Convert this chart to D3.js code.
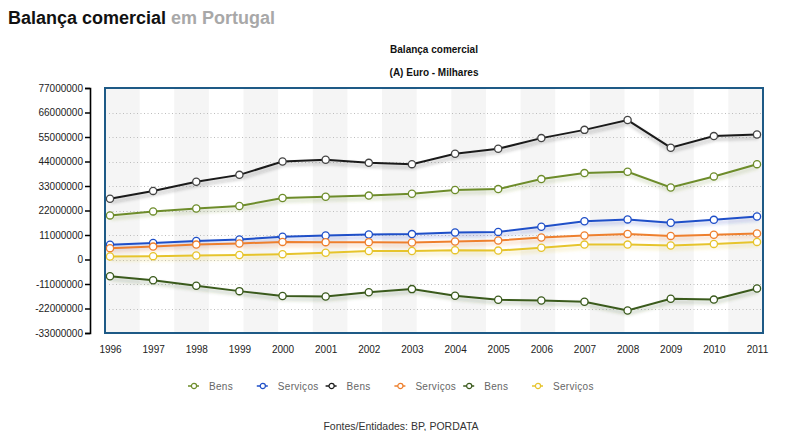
<!DOCTYPE html>
<html><head><meta charset="utf-8">
<script src="https://cdn.jsdelivr.net/npm/d3@7"></script>
<style>body{margin:0;background:#fff;}svg{display:block;font-family:Arial,"Liberation Sans",sans-serif;}</style>
</head><body>
<svg id="c" width="800" height="431"></svg>
<script>
const years = ["1996","1997","1998","1999","2000","2001","2002","2003","2004","2005","2006","2007","2008","2009","2010","2011"];
const yTicks = [77000000,66000000,55000000,44000000,33000000,22000000,11000000,0,-11000000,-22000000,-33000000];
const exportsBens    = [19800000,21600000,22900000,24000000,27600000,28200000,28700000,29500000,31200000,31600000,36100000,38800000,39400000,32300000,37300000,42800000];
const exportsServicos= [6600000,7400000,8300000,9000000,10200000,10800000,11200000,11400000,12100000,12400000,14700000,17200000,18000000,16500000,17800000,19300000];
const importsBens    = [27300000,30800000,34900000,38000000,44000000,44800000,43400000,42800000,47500000,49700000,54500000,58200000,62600000,50200000,55400000,56100000];
const importsServicos= [5100000,5800000,6700000,7200000,7900000,7800000,7800000,7600000,8100000,8500000,9900000,10800000,11500000,10600000,11100000,11700000];
const saldoBens      = [-7500000,-9300000,-11800000,-14200000,-16400000,-16600000,-14700000,-13300000,-16300000,-18100000,-18400000,-19000000,-22900000,-17600000,-18000000,-13000000];
const saldoServicos  = [1350000,1500000,1800000,2000000,2400000,3000000,3800000,3800000,4200000,4000000,5300000,6700000,6700000,6300000,7000000,7900000];
const seriesNames = ["Bens","Serviços","Bens","Serviços","Bens","Serviços"];
const seriesColors = ["#6d8c2a","#1f4fc8","#1a1a1a","#ee7f2d","#3a5a1c","#e6c42c"];
const seriesData = [exportsBens,exportsServicos,importsBens,importsServicos,saldoBens,saldoServicos];

const svg = d3.select("#c");
const L=105, R=763, T=88, B=333;

// page title
const ttl = svg.append("text").attr("x",8).attr("y",24).style("font-size","18px").style("font-weight","bold");
ttl.append("tspan").attr("fill","#111").text("Balança comercial ");
ttl.append("tspan").attr("fill","#a8a8a8").text("em Portugal");

// chart titles
svg.append("text").attr("x",(L+R)/2).attr("y",53).attr("text-anchor","middle").style("font-size","10px").style("font-weight","bold").attr("fill","#111").text("Balança comercial");
svg.append("text").attr("x",(L+R)/2).attr("y",76).attr("text-anchor","middle").style("font-size","10px").style("font-weight","bold").attr("fill","#111").text("(A) Euro - Milhares");

const y = d3.scaleLinear().domain([-33000000,77000000]).range([B,T]);
const x = d3.scalePoint().domain(years).range([110,757]);

// background stripes
const stripes = d3.scaleBand().domain(d3.range(19)).range([L,R]);
svg.append("g").selectAll("rect").data(d3.range(19).filter(i=>i%2===0)).join("rect")
  .attr("x",d=>stripes(d)).attr("y",T).attr("width",stripes.bandwidth()).attr("height",B-T).attr("fill","#f5f5f5");

// grid lines
svg.append("g").selectAll("line").data(yTicks.filter(v=>v!==77000000 && v!==-33000000)).join("line")
  .attr("x1",L+4).attr("x2",R-2).attr("y1",d=>Math.round(y(d))+0.5).attr("y2",d=>Math.round(y(d))+0.5)
  .attr("stroke","#bdbdbd").attr("stroke-width",1).attr("stroke-dasharray","1,2.5");

// y axis
const ya = svg.append("g").attr("transform","translate(90,0)")
  .call(d3.axisLeft(y).tickValues(yTicks).tickFormat(d=>String(d)).tickSize(5).tickPadding(2));
ya.select(".domain").attr("stroke","#000").attr("stroke-width",1.6);
ya.selectAll(".tick line").attr("stroke","#000").attr("stroke-width",1.5);
ya.selectAll("text").style("font-size","10px").attr("fill","#222").style("font-family","Arial,'Liberation Sans',sans-serif");

// x labels
const xa = svg.append("g").attr("transform",`translate(0,${B})`)
  .call(d3.axisBottom(x).tickSize(0).tickPadding(13));
xa.select(".domain").remove();
xa.selectAll("text").style("font-size","10px").attr("fill","#222").style("font-family","Arial,'Liberation Sans',sans-serif");

// shadow filter
const defs = svg.append("defs");
const f = defs.append("filter").attr("id","sh").attr("x","-5%").attr("y","-50%").attr("width","110%").attr("height","200%");
f.append("feGaussianBlur").attr("stdDeviation",1.5);

const line = d3.line().x((d,i)=>x(years[i])).y(d=>y(d));
const g = svg.append("g");
seriesData.forEach((data,k)=>{
  g.append("path").attr("d",line(data)).attr("fill","none").attr("stroke",seriesColors[k]).attr("stroke-opacity",0.18)
    .attr("stroke-width",4).attr("transform","translate(1,3)").attr("filter","url(#sh)");
});
seriesData.forEach((data,k)=>{
  g.append("path").attr("d",line(data)).attr("fill","none").attr("stroke",seriesColors[k]).attr("stroke-width",2);
  g.append("g").selectAll("circle").data(data).join("circle")
    .attr("cx",(d,i)=>x(years[i])).attr("cy",d=>y(d)).attr("r",3.6)
    .attr("fill","#fff").attr("stroke",k===2?"#444":seriesColors[k]).attr("stroke-width",1.3);
});

// frame
svg.append("rect").attr("x",L).attr("y",T).attr("width",R-L).attr("height",B-T).attr("fill","none").attr("stroke","#1e5a86").attr("stroke-width",2);

// legend
const lx = d3.scalePoint().domain(d3.range(6)).range([188,532]);
const lg = svg.append("g").selectAll("g").data(seriesNames).join("g").attr("transform",(d,i)=>`translate(${lx(i)},386)`);
lg.append("line").attr("x1",0).attr("x2",11).attr("y1",0).attr("y2",0).attr("stroke",(d,i)=>seriesColors[i]).attr("stroke-width",1.5);
lg.append("circle").attr("cx",6).attr("cy",0).attr("r",2.6).attr("fill","#fff").attr("stroke",(d,i)=>seriesColors[i]).attr("stroke-width",1.2);
lg.append("text").attr("x",21).attr("y",3.5).style("font-size","10px").attr("fill","#666").style("letter-spacing","0.3px").text(d=>d);

svg.append("text").attr("x",401).attr("y",430).attr("text-anchor","middle").style("font-size","10.5px").attr("fill","#333").text("Fontes/Entidades: BP, PORDATA");
</script>
</body></html>
